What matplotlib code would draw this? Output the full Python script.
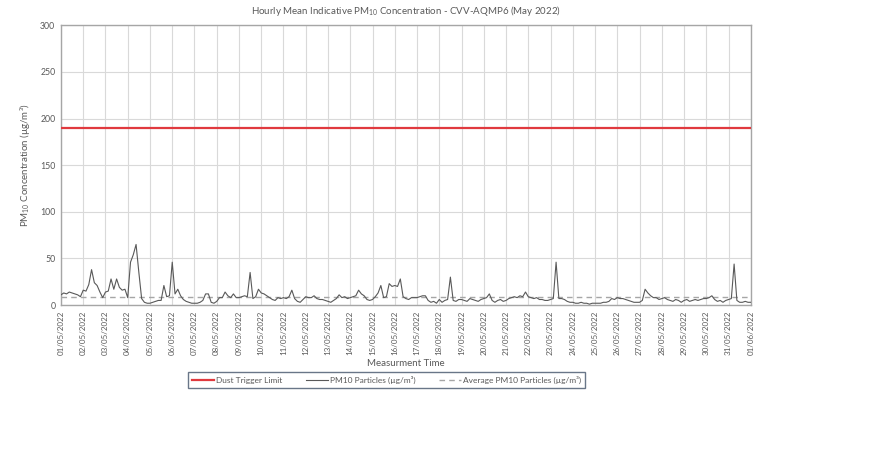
import numpy as np
import pandas as pd
import matplotlib
matplotlib.use("Agg")
import matplotlib.pyplot as plt
import matplotlib.dates as mdates

plt.rcParams['font.family'] = ['Lato', 'DejaVu Sans']
plt.rcParams['mathtext.fontset'] = 'custom'
plt.rcParams['mathtext.rm'] = 'Lato'
plt.rcParams['mathtext.it'] = 'Lato'

# 3-hourly PM10 readings (µg/m³), one row of 8 per day, 1–31 May 2022
day01 = [11, 13, 12, 14, 13, 12, 11, 9]
day02 = [16, 15, 22, 38, 24, 21, 14, 8]
day03 = [14, 15, 28, 17, 28, 19, 16, 17]
day04 = [8, 46, 54, 65, 35, 7, 3, 2]
day05 = [2, 3, 4, 5, 5, 21, 9, 10]
day06 = [46, 12, 17, 10, 6, 4, 3, 2]
day07 = [2, 2, 3, 5, 12, 12, 3, 2]
day08 = [4, 8, 8, 14, 10, 8, 12, 8]
day09 = [8, 9, 10, 9, 35, 7, 9, 17]
day10 = [13, 12, 10, 8, 6, 5, 8, 7]
day11 = [8, 7, 9, 16, 7, 4, 3, 6]
day12 = [9, 8, 8, 10, 7, 6, 6, 5]
day13 = [4, 3, 5, 7, 11, 8, 9, 7]
day14 = [8, 9, 10, 16, 12, 10, 6, 5]
day15 = [6, 9, 13, 21, 8, 9, 23, 20]
day16 = [21, 20, 28, 9, 7, 6, 8, 8]
day17 = [8, 9, 10, 10, 5, 3, 4, 2]
day18 = [6, 3, 5, 6, 30, 5, 4, 6]
day19 = [6, 5, 4, 7, 6, 5, 4, 6]
day20 = [7, 8, 12, 5, 3, 5, 6, 4]
day21 = [5, 7, 8, 9, 8, 10, 9, 14]
day22 = [9, 8, 7, 8, 6, 6, 5, 5]
day23 = [6, 7, 46, 7, 7, 6, 4, 3]
day24 = [3, 2, 2, 3, 2, 2, 1, 2]
day25 = [2, 2, 2, 3, 3, 4, 7, 6]
day26 = [8, 7, 7, 6, 5, 4, 3, 3]
day27 = [3, 5, 17, 13, 10, 8, 8, 6]
day28 = [7, 8, 6, 5, 4, 6, 5, 3]
day29 = [5, 6, 4, 5, 6, 5, 6, 7]
day30 = [7, 8, 10, 6, 4, 5, 3, 5]
day31 = [6, 7, 44, 5, 3, 3, 4, 3]
final_reading = [3]

pm10 = (day01 + day02 + day03 + day04 + day05 + day06 + day07 + day08 +
        day09 + day10 + day11 + day12 + day13 + day14 + day15 + day16 +
        day17 + day18 + day19 + day20 + day21 + day22 + day23 + day24 +
        day25 + day26 + day27 + day28 + day29 + day30 + day31 + final_reading)

dust_trigger_limit = 190
avg_pm10 = 8.5

times = pd.date_range("2022-05-01 00:00", periods=len(pm10), freq="3h")
tick_dates = pd.date_range("2022-05-01", "2022-06-01", freq="D")
tick_labels = [d.strftime("%d/%m/%Y") for d in tick_dates]

fig = plt.figure(figsize=(8.71, 4.5), dpi=100)
ax = fig.add_axes([0.070, 0.322, 0.792, 0.622])

ax.plot([tick_dates[0], tick_dates[-1]], [dust_trigger_limit] * 2,
        color="#e0393e", lw=1.6, label="Dust Trigger Limit", zorder=3)
ax.plot(times, pm10, color="#595959", lw=0.8,
        label="PM10 Particles (µg/m³)", zorder=4)
ax.plot([tick_dates[0], tick_dates[-1]], [avg_pm10] * 2,
        color="#a6a6a6", lw=1.0, ls=(0, (4, 3)),
        label="Average PM10 Particles (µg/m³)", zorder=3)

ax.set_xlim(tick_dates[0], tick_dates[-1])
ax.set_ylim(0, 300)
ax.set_yticks(np.arange(0, 301, 50))
ax.set_xticks(tick_dates)
ax.set_xticklabels(tick_labels, rotation=90)

ax.grid(True, color="#d9d9d9", lw=0.8)
ax.set_axisbelow(True)
for side in ax.spines.values():
    side.set_color("#a6a6a6")
    side.set_linewidth(1.0)
ax.tick_params(axis="both", length=0, labelsize=6.3, colors="#595959", pad=4)
ax.tick_params(axis="x", labelsize=5.8, pad=4)

ax.set_title("Hourly Mean Indicative PM$_{10}$ Concentration - CVV-AQMP6 (May 2022)",
             fontsize=7, color="#595959", pad=8)
ax.set_ylabel("PM$_{10}$ Concentration (µg/m³)", fontsize=7, color="#595959",
              labelpad=6)
ax.set_xlabel("Measurment Time", fontsize=7, color="#595959", labelpad=3)

leg = fig.legend(loc="center", bbox_to_anchor=(0.444, 0.155), ncol=3,
                 fontsize=6.0, frameon=True, fancybox=False,
                 handlelength=2.6, columnspacing=2.8, borderpad=0.45,
                 handletextpad=0.3)
leg.get_frame().set_edgecolor("#44546a")
leg.get_frame().set_linewidth(1.0)
for t in leg.get_texts():
    t.set_color("#595959")

fig.savefig("out.png", dpi=100)
